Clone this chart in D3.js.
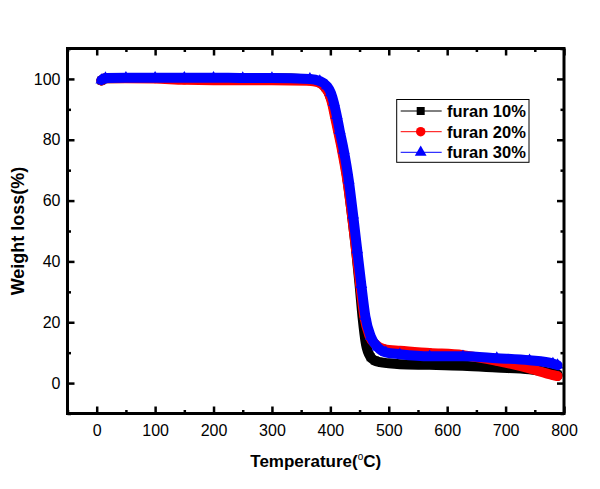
<!DOCTYPE html>
<html>
<head>
<meta charset="utf-8">
<script src="https://cdn.jsdelivr.net/npm/d3@7"></script>
<style>
  html, body { margin: 0; padding: 0; background: #fff; }
  svg { display: block; }
  .tick text { font-family: "Liberation Sans Narrow", "Arial Narrow", "Liberation Sans", Arial, sans-serif; font-size: 16px; fill: #000; }
  .title { font-family: "Liberation Sans", Arial, sans-serif; font-weight: bold; font-size: 17px; fill: #000; }
  .legtext { font-family: "Liberation Sans", Arial, sans-serif; font-weight: bold; font-size: 16.5px; fill: #000; }
</style>
</head>
<body>
<script>
// ---------- data ----------
const seriesNames = ["furan 10%", "furan 20%", "furan 30%"];
const seriesColors = ["#000000", "#ff0000", "#0000ff"];
const seriesMarkers = ["square", "circle", "triangle"];

const temp10 = [8, 15, 50, 100, 150, 200, 250, 300, 365, 380, 392, 399, 404, 409, 414, 421, 429.5, 437, 444, 450, 455, 461, 469, 476, 485, 500, 519, 570, 627, 685, 741, 781, 789];
const weight10 = [99.5, 100.2, 100.3, 100.3, 100.2, 100.2, 100.2, 100.2, 99.8, 99.0, 97.2, 94.8, 92.0, 87.5, 83.0, 76.5, 66.7, 55.2, 43.8, 32.4, 21.9, 12.7, 8.5, 7.4, 6.9, 6.5, 6.2, 6.0, 5.7, 5.1, 4.5, 3.2, 2.8];

const temp20 = [8, 15, 50, 100, 150, 200, 250, 300, 363, 379, 391, 398, 403, 408, 413, 420, 429, 437, 444, 451, 458, 467, 478, 492, 519, 570, 627, 685, 741, 781, 789];
const weight20 = [99.5, 100.2, 100.2, 100.1, 99.7, 99.6, 99.6, 99.6, 99.4, 98.9, 97.2, 95.0, 92.0, 87.5, 83.0, 76.5, 66.7, 55.2, 43.8, 32.4, 22.0, 15.5, 12.6, 11.2, 10.6, 9.9, 9.2, 7.3, 4.8, 2.6, 2.3];

const temp30 = [8, 15, 50, 100, 150, 200, 250, 300, 365, 382, 394, 401, 406, 411, 416, 423, 431.5, 439, 446, 453, 460, 469, 481, 495, 519, 570, 627, 685, 741, 781, 789];
const weight30 = [99.6, 100.3, 100.4, 100.4, 100.4, 100.4, 100.3, 100.3, 100.0, 99.3, 97.7, 95.4, 92.2, 87.9, 83.0, 76.5, 66.7, 55.2, 43.8, 32.4, 21.9, 15.4, 11.8, 10.1, 9.5, 8.8, 8.8, 8.2, 7.5, 6.4, 5.9];

const xMajorTicks = [0, 100, 200, 300, 400, 500, 600, 700, 800];
const xMinorTicks = [-50, 50, 150, 250, 350, 450, 550, 650, 750];
const yMajorTicks = [0, 20, 40, 60, 80, 100];
const yMinorTicks = [-10, 10, 30, 50, 70, 90, 110];

const xLabel = "Temperature(";
const yLabel = "Weight loss(%)";

// ---------- layout ----------
const W = 600, H = 489;
const L = 67.5, R = 564, T = 48.5, B = 413.5;

const svg = d3.select("body").append("svg").attr("width", W).attr("height", H);

const x = d3.scaleLinear().domain([-50, 800]).range([L, R]);
const y = d3.scaleLinear().domain([-10, 110]).range([B, T]);

// ---------- series ----------
const series = [
  { t: temp10, w: weight10 },
  { t: temp20, w: weight20 },
  { t: temp30, w: weight30 }
].map((s, i) => ({
  name: seriesNames[i], color: seriesColors[i], marker: seriesMarkers[i],
  pts: s.t.map((tv, j) => [tv, s.w[j]])
}));

svg.append("defs").append("clipPath").attr("id", "plotclip")
  .append("rect").attr("x", L).attr("y", T).attr("width", R - L).attr("height", B - T);

const line = d3.line().x(d => x(d[0])).y(d => y(d[1])).curve(d3.curveMonotoneX);

const symType = { square: d3.symbolSquare, circle: d3.symbolCircle, triangle: d3.symbolTriangle };
const symSize = { square: 64, circle: 70, triangle: 60 };

const gData = svg.append("g").attr("clip-path", "url(#plotclip)");
series.forEach(s => {
  const g = gData.append("g");
  g.append("path").attr("d", line(s.pts)).attr("fill", "none")
    .attr("stroke", s.color).attr("stroke-width", 10)
    .attr("stroke-linejoin", "round").attr("stroke-linecap", "round");
  g.selectAll("path.pt").data(s.pts).enter().append("path").attr("class", "pt")
    .attr("transform", d => `translate(${x(d[0])},${y(d[1])})`)
    .attr("d", d3.symbol().type(symType[s.marker]).size(symSize[s.marker]))
    .attr("fill", s.color);
});

// ---------- axes ----------
function styleAxis(g, w) {
  g.select(".domain").remove();
  g.selectAll(".tick line").attr("stroke", "#000").attr("stroke-width", w);
}
const major = 7, minor = 3.5;

svg.append("g").attr("transform", `translate(0,${B})`)
  .call(d3.axisBottom(x).tickValues(xMajorTicks).tickSize(-major).tickPadding(11).tickFormat(d3.format("d")))
  .call(g => styleAxis(g, 2.5));
svg.append("g").attr("transform", `translate(0,${B})`)
  .call(d3.axisBottom(x).tickValues(xMinorTicks).tickSize(-minor).tickFormat(""))
  .call(g => styleAxis(g, 2.5));
svg.append("g").attr("transform", `translate(0,${T})`)
  .call(d3.axisTop(x).tickValues(xMajorTicks).tickSize(-major).tickFormat(""))
  .call(g => styleAxis(g, 2.5));
svg.append("g").attr("transform", `translate(0,${T})`)
  .call(d3.axisTop(x).tickValues(xMinorTicks).tickSize(-minor).tickFormat(""))
  .call(g => styleAxis(g, 2.5));

svg.append("g").attr("transform", `translate(${L},0)`)
  .call(d3.axisLeft(y).tickValues(yMajorTicks).tickSize(-major).tickPadding(7).tickFormat(d3.format("d")))
  .call(g => styleAxis(g, 2.5));
svg.append("g").attr("transform", `translate(${L},0)`)
  .call(d3.axisLeft(y).tickValues(yMinorTicks).tickSize(-minor).tickFormat(""))
  .call(g => styleAxis(g, 2.5));
svg.append("g").attr("transform", `translate(${R},0)`)
  .call(d3.axisRight(y).tickValues(yMajorTicks).tickSize(-major).tickFormat(""))
  .call(g => styleAxis(g, 2.5));
svg.append("g").attr("transform", `translate(${R},0)`)
  .call(d3.axisRight(y).tickValues(yMinorTicks).tickSize(-minor).tickFormat(""))
  .call(g => styleAxis(g, 2.5));

// frame
svg.append("rect").attr("x", L).attr("y", T).attr("width", R - L).attr("height", B - T)
  .attr("fill", "none").attr("stroke", "#000").attr("stroke-width", 3);

// ---------- titles ----------
const xt = svg.append("text").attr("class", "title")
  .attr("x", (L + R) / 2).attr("y", 467).attr("text-anchor", "middle");
xt.append("tspan").text(xLabel);
xt.append("tspan").text("o").attr("font-size", "10px").attr("font-weight", "normal").attr("dy", -7);
xt.append("tspan").text("C)").attr("dy", 7);

svg.append("text").attr("class", "title").style("font-size", "18px")
  .attr("transform", `translate(24,${(T + B) / 2}) rotate(-90)`)
  .attr("text-anchor", "middle").text(yLabel);

// ---------- legend ----------
const lg = svg.append("g");
lg.append("rect").attr("x", 396.7).attr("y", 99.5).attr("width", 132.3).attr("height", 62.8)
  .attr("fill", "#fff").attr("stroke", "#000").attr("stroke-width", 1);
const rowY = [111, 131.7, 152.3];
const legSym = { square: 64, circle: 70, triangle: 60 };
series.forEach((s, i) => {
  const yy = rowY[i];
  lg.append("line").attr("x1", 400.7).attr("x2", 441.7).attr("y1", yy).attr("y2", yy)
    .attr("stroke", s.color).attr("stroke-width", 1);
  lg.append("path").attr("transform", `translate(420.7,${yy})`)
    .attr("d", d3.symbol().type(symType[s.marker]).size(legSym[s.marker])).attr("fill", s.color);
  lg.append("text").attr("class", "legtext").attr("x", 447).attr("y", yy + 6).text(s.name);
});
</script>
</body>
</html>
